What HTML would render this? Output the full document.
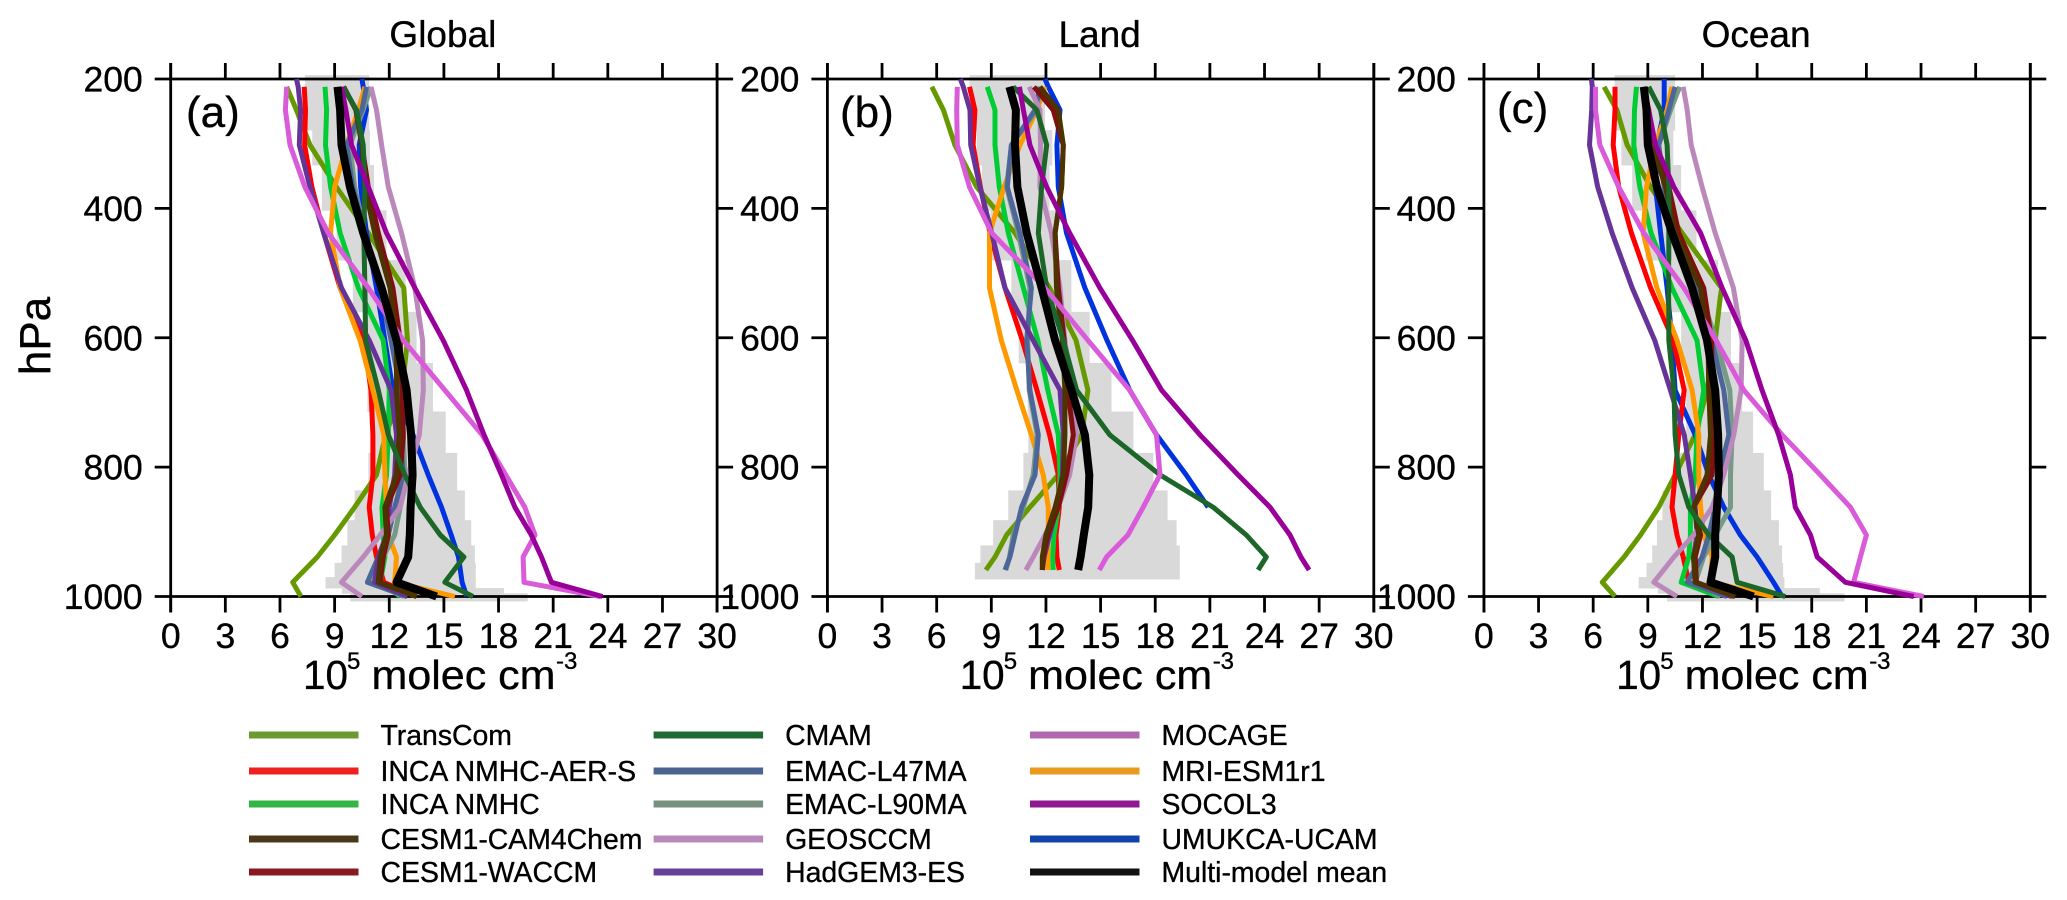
<!DOCTYPE html>
<html lang="en">
<head>
<meta charset="utf-8">
<title>Vertical profiles of OH concentration</title>
<style>
html,body{margin:0;padding:0;background:#fff;}
svg{display:block;}
text{font-family:"Liberation Sans",sans-serif;fill:#000;stroke:#000;stroke-width:0.35px;}
</style>
</head>
<body>
<svg id="figure" width="2067" height="900" viewBox="0 0 2067 900" xmlns="http://www.w3.org/2000/svg">
  <text font-size="44" text-anchor="middle" transform="translate(50,336) rotate(-90)">hPa</text>
</svg>
<script>
const seriesNames = ['TransCom','INCA NMHC-AER-S','INCA NMHC','CESM1-CAM4Chem','CESM1-WACCM','CMAM','EMAC-L47MA','EMAC-L90MA','GEOSCCM','HadGEM3-ES','MOCAGE','MRI-ESM1r1','SOCOL3','UMUKCA-UCAM','Multi-model mean'];
const seriesColors = ['#669900','#ff0000','#00cc33','#4d3300','#800f0f','#1b6628','#4d6699','#779988','#bb88bb','#663399','#d95bd9','#ff9900','#990099','#0033dd','#000000'];
const legendColors = ['#6a9a30','#ee2020','#33b544','#4a3818','#8a1820','#1f6a33','#4a6690','#779080','#b888bb','#66409a','#b268ae','#ea9a1c','#8f1a8f','#1144aa','#111111'];
const drawOrder = [0,13,1,2,11,7,6,9,8,4,3,5,10,12,14];

const xTicks = [0,3,6,9,12,15,18,21,24,27,30];
const yTicks = [200,400,600,800,1000];
const levels = [200,212,248,302,367,438,523,604,681,750,812,862,905,939,978,1000];
const landLevels = [200,212,248,302,367,438,523,604,681,750,812,862,905,939,959,1000];
const histEdges = [194,279,333,403,480,560,639,714,778,836,882,921,948,970,987,995,1007];
const landHistEdges = [194,279,333,403,480,560,639,714,778,836,882,921,948,973];

const globalHistLow = [7.37,7.77,8.3,9.1,10.0,10.6,10.8,11.0,10.85,10.1,9.7,9.38,9.0,8.5,9.4,9.85];
const globalHistHigh = [10.9,10.94,11.16,11.85,12.9,13.5,14.4,15.1,15.73,16.15,16.5,16.7,16.75,16.75,18.3,19.6];
const landHistLow = [7.8,8.2,8.48,8.95,10.1,10.5,11.0,11.03,10.76,9.93,9.1,8.4,8.1];
const landHistHigh = [11.95,12.35,12.2,12.5,13.4,14.4,15.6,16.8,17.9,18.68,19.17,19.35,19.35];
const oceanHistLow = [7.17,7.55,8.14,8.87,10.33,10.83,11.1,11.1,10.5,9.8,9.5,9.24,8.93,8.5,9.55,10.06];
const oceanHistHigh = [10.5,10.4,10.83,11.67,12.86,13.57,14.18,14.78,15.37,15.77,16.2,16.37,16.43,16.5,18.44,19.8];

const globalTransCom = [null,6.37,6.9,7.65,9.1,10.85,12.8,13.0,12.7,11.8,11.3,10.1,9.0,8.05,6.7,7.15];
const globalRed = [null,7.33,7.4,7.35,7.75,8.4,9.3,10.6,11.0,11.1,11.1,10.9,11.07,11.3,11.7,13.5];
const globalGreen = [null,8.47,8.56,8.5,8.78,9.3,10.3,11.67,12.0,11.95,11.85,11.6,11.67,11.76,11.5,12.6];
const globalBrown = [null,9.5,10.17,10.5,10.66,11.2,12.04,12.4,12.4,12.55,12.4,11.76,11.85,11.5,11.4,13.5];
const globalWaccm = [null,9.5,10.17,10.5,10.85,11.4,12.2,12.6,12.7,12.77,12.6,11.85,11.95,11.67,11.5,13.5];
const globalCmam = [null,9.47,10.2,10.57,10.66,10.6,10.66,10.7,11.4,11.95,12.86,13.7,14.8,16.1,15.05,16.6];
const globalL47 = [null,10.75,10.5,9.66,10.0,10.66,11.5,12.1,12.6,12.6,12.77,12.3,11.95,11.4,10.8,12.95];
const globalL90 = [null,11.0,10.57,9.84,10.1,10.66,11.6,12.2,12.7,12.77,12.86,12.6,12.3,11.67,11.1,12.8];
const globalGeos = [null,11.0,11.3,11.58,11.95,12.67,13.4,13.83,13.87,13.65,13.04,12.6,11.5,10.57,9.38,10.5];
const globalHadgem = [6.9,7.0,7.13,7.06,7.65,8.4,9.38,10.9,12.1,12.4,12.3,12.0,11.85,11.4,11.2,13.0];
const globalMocage = [null,6.37,6.3,6.55,7.37,8.65,10.85,12.77,15.05,17.1,18.4,19.44,20.0,19.35,19.4,23.6];
const globalMri = [null,10.66,10.3,9.66,9.0,8.78,9.3,10.4,11.1,11.7,11.76,11.85,11.95,12.4,12.3,15.6];
const globalSocol = [null,9.38,9.62,9.93,10.85,11.85,13.4,14.96,16.24,17.2,18.16,18.9,19.8,20.36,20.9,23.7];
const globalUmukca = [10.5,10.57,10.75,10.35,10.43,10.75,11.3,11.76,12.2,13.3,14.14,14.87,15.4,15.8,16.0,16.25];
const globalMean = [null,9.16,9.3,9.38,9.84,10.57,11.58,12.4,12.95,13.2,13.28,13.17,13.13,13.04,12.4,14.6];

const landTransCom = [null,5.73,6.37,7.0,8.2,10.3,12.2,13.65,14.3,13.96,12.68,11.12,9.84,9.2,8.7,null];
const landRed = [null,7.8,8.1,8.0,8.4,8.93,9.75,10.7,11.5,12.2,12.68,12.73,12.55,12.6,12.73,null];
const landGreen = [null,8.78,9.2,9.2,9.44,9.93,10.76,11.55,12.1,12.68,12.77,12.68,12.44,12.37,12.4,null];
const landBrown = [null,11.67,12.68,12.95,12.86,12.5,12.58,12.9,13.04,13.04,12.95,12.5,12.0,11.8,11.8,null];
const landWaccm = [null,11.34,12.4,12.95,12.86,12.5,12.68,13.0,13.2,13.5,13.13,12.68,12.1,11.85,11.8,null];
const landCmam = [null,10.2,11.5,12.04,11.76,11.58,12.04,12.95,13.68,15.5,18.26,21.18,23.0,24.1,23.65,null];
const landL47 = [null,11.67,11.4,10.1,9.88,10.57,11.2,10.94,11.12,11.58,11.4,10.66,10.3,10.02,9.75,null];
const landL90 = [null,11.67,11.5,10.1,9.84,10.48,11.12,11.0,11.08,11.52,11.3,10.76,10.2,10.0,9.8,null];
const landGeos = [null,11.08,11.67,11.7,11.67,12.3,12.77,13.04,13.4,13.68,13.3,12.68,11.95,11.3,10.9,null];
const landHadgem = [7.3,7.46,7.83,7.87,8.38,9.02,9.75,11.3,12.77,12.95,12.9,12.6,12.2,11.9,11.8,null];
const landMocage = [null,7.13,7.1,7.13,7.8,9.02,11.95,14.3,16.6,18.07,18.26,17.34,16.5,15.33,14.93,null];
const landMri = [null,11.95,11.5,10.57,9.7,8.9,8.9,9.55,10.4,11.2,11.85,12.13,12.13,12.1,12.1,null];
const landSocol = [null,10.54,10.76,11.12,12.04,13.3,14.96,16.75,18.35,20.45,22.55,24.3,25.4,26.0,26.45,null];
const landUmukca = [11.95,12.13,12.77,12.6,12.68,13.13,14.14,15.35,16.6,18.07,19.7,20.9,null,null,null,null];
const landMean = [null,9.99,10.35,10.3,10.43,10.94,11.76,12.5,13.4,14.14,14.38,14.32,14.08,13.9,13.77,null];

const oceanTransCom = [null,6.6,7.3,7.87,9.15,10.88,13.04,12.7,12.25,11.6,10.5,9.6,8.6,7.7,6.5,7.2];
const oceanRed = [null,7.2,7.2,7.1,7.4,8.1,9.15,10.4,11.0,10.7,10.5,10.33,10.6,10.94,11.25,13.7];
const oceanGreen = [null,8.38,8.27,8.23,8.56,9.18,10.33,11.7,12.07,11.7,11.6,11.34,11.34,11.25,10.83,12.9];
const oceanBrown = [null,8.78,9.0,9.24,9.97,10.5,11.9,12.3,12.35,12.44,12.25,11.52,11.8,11.52,11.6,13.8];
const oceanWaccm = [null,8.78,9.05,9.33,10.15,10.7,12.07,12.5,12.53,12.66,12.53,11.52,11.9,11.6,11.67,13.8];
const oceanCmam = [null,9.05,9.7,10.06,10.15,10.15,10.15,10.15,10.43,10.5,10.7,11.25,12.35,13.63,13.9,16.55];
const oceanL47 = [null,10.5,10.15,9.6,9.9,10.43,11.7,12.5,13.17,13.45,12.9,12.7,12.35,11.98,11.16,13.35];
const oceanL90 = [null,10.75,10.25,9.6,9.9,10.5,11.8,12.75,13.5,13.63,13.54,13.54,12.7,12.07,11.6,13.0];
const oceanGeos = [null,10.94,11.16,11.38,11.98,12.7,13.7,14.18,14.12,13.72,13.17,12.53,11.52,10.43,9.33,10.6];
const oceanHadgem = [5.9,5.95,5.92,5.8,6.25,7.04,8.14,9.38,10.24,11.0,11.34,11.6,11.7,11.5,11.6,13.6];
const oceanMocage = [null,6.13,6.13,6.37,7.4,8.78,10.98,12.75,14.27,16.37,18.47,20.12,21.0,20.67,20.3,24.15];
const oceanMri = [null,10.33,10.06,9.42,8.93,8.74,9.5,10.6,11.43,11.8,11.8,11.9,12.07,12.53,12.44,15.9];
const oceanSocol = [null,8.78,9.05,9.42,10.43,11.9,13.08,14.38,15.27,16.18,16.83,17.1,17.93,18.3,19.85,23.6];
const oceanUmukca = [9.9,9.9,9.9,9.5,9.42,9.7,10.06,10.33,10.5,11.6,12.35,13.17,14.08,15.0,15.9,16.37];
const oceanMean = [null,8.78,8.93,9.0,9.5,10.33,11.43,12.25,12.7,12.86,12.9,12.8,12.7,12.7,12.44,14.8];

const globalSeries = [globalTransCom,globalRed,globalGreen,globalBrown,globalWaccm,globalCmam,globalL47,globalL90,globalGeos,globalHadgem,globalMocage,globalMri,globalSocol,globalUmukca,globalMean];
const landSeries = [landTransCom,landRed,landGreen,landBrown,landWaccm,landCmam,landL47,landL90,landGeos,landHadgem,landMocage,landMri,landSocol,landUmukca,landMean];
const oceanSeries = [oceanTransCom,oceanRed,oceanGreen,oceanBrown,oceanWaccm,oceanCmam,oceanL47,oceanL90,oceanGeos,oceanHadgem,oceanMocage,oceanMri,oceanSocol,oceanUmukca,oceanMean];

const panels = [
  {key:'global',title:'Global',tag:'(a)',left:170.7,tagX:186,tagY:127,series:globalSeries,lev:levels,edges:histEdges,lo:globalHistLow,hi:globalHistHigh},
  {key:'land',title:'Land',tag:'(b)',left:827.4,tagX:840,tagY:127,series:landSeries,lev:landLevels,edges:landHistEdges,lo:landHistLow,hi:landHistHigh},
  {key:'ocean',title:'Ocean',tag:'(c)',left:1483.9,tagX:1497,tagY:123,series:oceanSeries,lev:levels,edges:histEdges,lo:oceanHistLow,hi:oceanHistHigh}
];

const NS = 'http://www.w3.org/2000/svg';
const svg = document.getElementById('figure');
const plotWidth = 546.4, plotTop = 79, plotBottom = 596.5;
function yScale(p){ return plotTop + (p - 200) * (plotBottom - plotTop) / 800; }
function xScale(panel, v){ return panel.left + v * plotWidth / 30; }
function make(tag, parent, attrs, content){
  const el = document.createElementNS(NS, tag);
  for (const k in attrs) el.setAttribute(k, attrs[k]);
  if (content !== undefined) el.textContent = content;
  parent.appendChild(el);
  return el;
}
function axisLine(parent, x1, y1, x2, y2, name){
  const el = make('line', parent, {x1:x1, y1:y1, x2:x2, y2:y2, stroke:'#000', 'stroke-width':2.8});
  
  
  return el;
}

panels.forEach(function(panel){
  const g = make('g', svg, {});
  
  
  const right = panel.left + plotWidth;

  panel.lo.forEach(function(low, i){
    const y0 = yScale(panel.edges[i]), y1 = yScale(panel.edges[i + 1]);
    const bar = make('rect', g, {x:xScale(panel, low), y:y0, width:xScale(panel, panel.hi[i]) - xScale(panel, low), height:y1 - y0 + 0.4, fill:'#d9d9d9'});
    
    
  });

  axisLine(g, panel.left - 1.4, plotTop, right + 1.4, plotTop, panel.key + '-top-axis');
  axisLine(g, panel.left - 1.4, plotBottom, right + 1.4, plotBottom, panel.key + '-bottom-axis');
  axisLine(g, panel.left, plotTop - 16, panel.left, plotBottom + 16, panel.key + '-left-axis');
  axisLine(g, right, plotTop - 16, right, plotBottom + 16, panel.key + '-right-axis');

  xTicks.forEach(function(t){
    const x = xScale(panel, t);
    axisLine(g, x, plotTop - 16, x, plotTop, panel.key + '-top-tick');
    axisLine(g, x, plotBottom, x, plotBottom + 16, panel.key + '-bottom-tick');
    const label = make('text', g, {x:x, y:648, 'font-size':35.5, 'text-anchor':'middle'}, String(t));
    
    
  });
  yTicks.forEach(function(t){
    const y = yScale(t);
    axisLine(g, panel.left - 16, y, panel.left, y, panel.key + '-left-tick');
    axisLine(g, right, y, right + 16, y, panel.key + '-right-tick');
    const label = make('text', g, {x:panel.left - 28, y:y + 12.5, 'font-size':35.5, 'text-anchor':'end'}, String(t));
    
    
  });

  drawOrder.forEach(function(idx){
    const values = panel.series[idx];
    const pts = [];
    values.forEach(function(v, i){
      if (v !== null) pts.push(xScale(panel, v).toFixed(1) + ',' + yScale(panel.lev[i]).toFixed(1));
    });
    const line = make('polyline', g, {points:pts.join(' '), fill:'none', stroke:seriesColors[idx], 'stroke-width':idx === 14 ? 8 : 5, 'stroke-linejoin':'round'});
    
    
  });

  const title = make('text', g, {x:panel.left + plotWidth / 2 - 1, y:47, 'font-size':37, 'text-anchor':'middle'}, panel.title);
  
  

  const tag = make('text', g, {x:panel.tagX, y:panel.tagY, 'font-size':44}, panel.tag);
  
  

  const xTitle = make('g', g, {});
  
  
  const ox = panel.left - 170.7;
  make('text', xTitle, {x:ox + 303, y:689, 'font-size':40.5, textLength:45, lengthAdjust:'spacingAndGlyphs'}, '10');
  make('text', xTitle, {x:ox + 347, y:669, 'font-size':24}, '5');
  make('text', xTitle, {x:ox + 371.5, y:689, 'font-size':41, textLength:184, lengthAdjust:'spacingAndGlyphs'}, 'molec cm');
  make('text', xTitle, {x:ox + 556, y:669, 'font-size':24}, '-3');
});

const legendRows = [735,771,804,839,872];
const legendCols = [249,653.6,1030];
const legendGroup = make('g', svg, {});


seriesNames.forEach(function(name, i){
  const col = Math.floor(i / 5), row = i % 5;
  const x0 = legendCols[col], y0 = legendRows[row];
  const entry = make('g', legendGroup, {});
  
  
  make('line', entry, {x1:x0, y1:y0, x2:x0 + 109.5, y2:y0, stroke:legendColors[i], 'stroke-width':7});
  make('text', entry, {x:x0 + 131.5, y:y0 + 9.8, 'font-size':28.4}, name);
});
</script>
</body>
</html>
